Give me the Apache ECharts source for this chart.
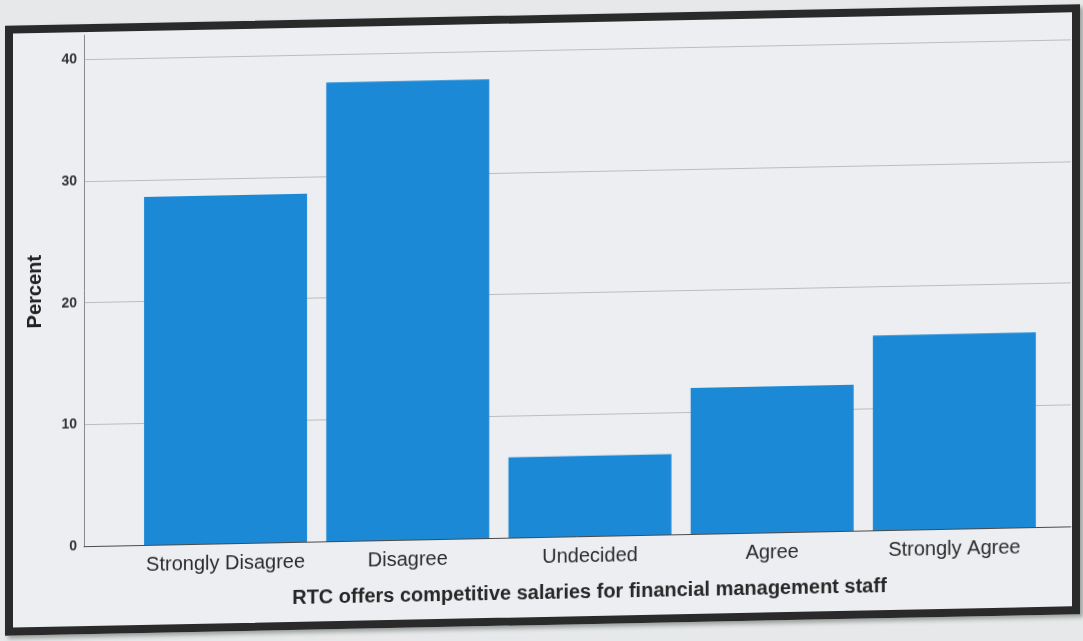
<!DOCTYPE html>
<html>
<head>
<meta charset="utf-8">
<script src="https://cdn.jsdelivr.net/npm/echarts@6/dist/echarts.min.js"></script>
<style>
  html, body { margin: 0; padding: 0; background: #e6e8ea; overflow: hidden; }
  #sheet {
    position: absolute; left: 0; top: 0; width: 1083px; height: 641px;
    transform: skewY(-1.15deg); transform-origin: 541px 320px;
  }
  #frame {
    position: absolute; left: 5px; top: 15px; width: 1059px; height: 594px;
    border: 8px solid #2a2a2a; background: #eceef1;
    box-shadow: 3px 3px 4px rgba(60, 70, 60, 0.45);
  }
  #chart { position: absolute; left: 0; top: 0; width: 1083px; height: 641px; }
</style>
</head>
<body>
<div id="sheet">
  <div id="frame"></div>
  <div id="chart"></div>
</div>
<script>
// Response categories and the percentage of respondents in each
const categories = ['Strongly Disagree', 'Disagree', 'Undecided', 'Agree', 'Strongly Agree'];
const percent = [28.6, 37.7, 6.6, 12.0, 16.0];
const yTicks = [0, 10, 20, 30, 40];
const xTitle = 'RTC offers competitive salaries for financial management staff';
const yTitle = 'Percent';

const FONT = '"Liberation Sans", Arial, Helvetica, sans-serif';
const chart = echarts.init(document.getElementById('chart'), null, { renderer: 'canvas' });

chart.setOption({
  backgroundColor: 'transparent',
  animation: false,
  grid: { left: 84, right: 12, top: 26, bottom: 104, containLabel: false },
  xAxis: {
    type: 'value',
    min: -0.777,
    max: 4.639,
    name: xTitle,
    nameLocation: 'middle',
    nameGap: 46,
    nameTextStyle: {
      fontFamily: FONT, fontSize: 20, fontWeight: 'bold', color: '#262626',
      padding: [0, 0, 0, 24]
    },
    axisLine: { show: true, onZero: false, lineStyle: { color: '#4a4a4a', width: 1 } },
    axisTick: { show: false },
    splitLine: { show: false },
    axisLabel: {
      customValues: categories.map((c, i) => i),
      formatter: v => categories[Math.round(v)] || '',
      fontFamily: FONT, fontSize: 20, color: '#2b2b2b', margin: 10
    }
  },
  yAxis: {
    type: 'value',
    min: 0,
    max: 42,
    interval: 10,
    name: yTitle,
    nameLocation: 'middle',
    nameGap: 39,
    nameRotate: 90,
    nameTextStyle: { fontFamily: FONT, fontSize: 20, fontWeight: 'bold', color: '#222' },
    axisLine: { show: true, onZero: false, lineStyle: { color: '#8a8a8a', width: 1 } },
    axisTick: { show: false },
    axisLabel: {
      customValues: yTicks,
      fontFamily: FONT, fontSize: 14, fontWeight: 'bold', color: '#333', margin: 7
    },
    splitLine: {
      show: true, showMinLine: false, showMaxLine: false,
      lineStyle: { color: '#bcbcbc', width: 1 }
    }
  },
  series: [{
    type: 'bar',
    data: percent.map((v, i) => [i, v]),
    barWidth: 163,
    itemStyle: { color: '#1b89d6' }
  }]
});
</script>
</body>
</html>
